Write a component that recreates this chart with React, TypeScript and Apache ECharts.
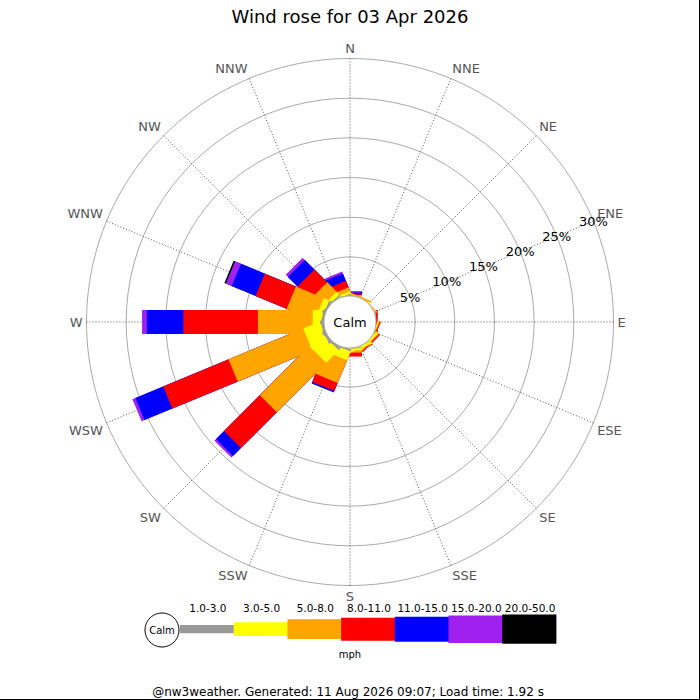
import React, { useEffect, useRef } from 'react';
import * as echarts from 'echarts';

// Compass directions, clockwise from North
const DIRECTIONS = ['N', 'NNE', 'NE', 'ENE', 'E', 'ESE', 'SE', 'SSE', 'S', 'SSW', 'SW', 'WSW', 'W', 'WNW', 'NW', 'NNW'];
// Speed bins (mph)
const SPEED_BINS = ['1.0-3.0', '3.0-5.0', '5.0-8.0', '8.0-11.0', '11.0-15.0', '15.0-20.0', '20.0-50.0'];
const BIN_COLORS = ['#999999', '#ffff00', '#ffa500', '#ff0000', '#0000ff', '#a020f0', '#000000'];

// Percentage of time per direction, for each speed bin (order of DIRECTIONS)
const PCT_1_3 = [0.05, 0, 0, 0, 0.05, 0, 0, 0.05, 0.1, 0.2, 0.3, 0.3, 0.25, 0.25, 0.2, 0.1];
const PCT_3_5 = [0.05, 0.05, 0.05, 0, 0, 0.15, 0.3, 0.3, 0.25, 1.2, 2.25, 2.25, 1.25, 0.75, 0.5, 0.3];
const PCT_5_8 = [0.05, 0.2, 0.1, 0, 0, 0.1, 0.15, 0.1, 0.3, 3.1, 8.8, 10.2, 6.9, 3.8, 1.65, 0.5];
const PCT_8_11 = [0.15, 0, 0, 0, 0.25, 0.15, 0.2, 0.1, 0.5, 1.1, 6.4, 8.9, 9.4, 4.25, 2.3, 0.9];
const PCT_11_15 = [0.2, 0, 0, 0, 0, 0, 0, 0, 0, 0.2, 1.4, 3.8, 4.6, 3.25, 1.7, 1.0];
const PCT_15_20 = [0.2, 0, 0, 0, 0, 0, 0, 0, 0, 0, 0.3, 0.4, 0.6, 0.8, 0.4, 0.25];
const PCT_20_50 = [0, 0, 0, 0, 0, 0, 0, 0, 0, 0, 0, 0, 0, 0.2, 0, 0];

// Radial axis (percent)
const RADIUS_MAX = 30;
const RADIUS_STEP = 5;
// The radial tick labels run along this direction
const LABEL_DIRECTION = 'ENE';

const TITLE = 'Wind rose for 03 Apr 2026';
const UNIT = 'mph';
const FOOTER = '@nw3weather. Generated: 11 Aug 2026 09:07; Load time: 1.92 s';

const FONT = 'DejaVu Sans';

export default function App() {
  const ref = useRef<HTMLDivElement>(null);

  useEffect(() => {
    if (!ref.current) return;
    const chart = echarts.init(ref.current, null, { renderer: 'svg' });

    const bins = [PCT_1_3, PCT_3_5, PCT_5_8, PCT_8_11, PCT_11_15, PCT_15_20, PCT_20_50];
    const cum: number[][] = [];
    bins.forEach((b, k) => {
      cum.push(b.map((v, i) => v + (k > 0 ? cum[k - 1][i] : 0)));
    });

    const n = DIRECTIONS.length;
    const step = 360 / n;
    const startIdx = DIRECTIONS.indexOf(LABEL_DIRECTION);
    const startAngle = 90 - startIdx * step;
    // angle-axis value of each direction, measured from the label direction
    const angleOf = (i: number) => ((((i - startIdx) % n) + n) % n) * step;
    const nameAt = (v: number) => DIRECTIONS[(Math.round(v / step) + startIdx) % n];

    const BAR_HALF = 12;

    const series: any[] = [];
    for (let k = bins.length - 1; k >= 0; k--) {
      const color = BIN_COLORS[k];
      series.push({
        type: 'custom',
        name: SPEED_BINS[k],
        coordinateSystem: 'polar',
        encode: { radius: 0, angle: 1 },
        data: DIRECTIONS.map((d, i) => [cum[k][i], angleOf(i), bins[k][i]]),
        renderItem: (params: any, api: any) => {
          const v = api.value(2);
          if (!(v > 0)) return null;
          const a = api.value(1);
          const top = api.value(0);
          const p0 = api.coord([0, a]);
          const p1 = api.coord([top, a]);
          const pf = api.coord([RADIUS_MAX, a]);
          let ux = pf[0] - p0[0];
          let uy = pf[1] - p0[1];
          const len = Math.sqrt(ux * ux + uy * uy) || 1;
          ux /= len;
          uy /= len;
          const nx = -uy * BAR_HALF;
          const ny = ux * BAR_HALF;
          return {
            type: 'polygon',
            shape: {
              points: [
                [p0[0] + nx, p0[1] + ny],
                [p1[0] + nx, p1[1] + ny],
                [p1[0] - nx, p1[1] - ny],
                [p0[0] - nx, p0[1] - ny],
              ],
            },
            style: { fill: color },
          };
        },
      });
    }

    const legendX = 180;
    const legendW = 53.7;
    const legendCy = 629.2;
    const legendH = [8.3, 13.7, 19.7, 23, 25, 27.4, 29.3];
    const graphics: any[] = [
      {
        type: 'circle',
        shape: { cx: 350, cy: 322, r: 26 },
        style: { fill: '#ffffff', stroke: '#aaaaaa', lineWidth: 1 },
        z: 100,
      },
      {
        type: 'text',
        x: 350,
        y: 322,
        style: { text: 'Calm', fontSize: 13, fontFamily: FONT, fill: '#000', align: 'center', verticalAlign: 'middle' },
        z: 101,
      },
      {
        type: 'circle',
        shape: { cx: 162, cy: 630, r: 17 },
        style: { fill: '#ffffff', stroke: '#000000', lineWidth: 1 },
        z: 100,
      },
      {
        type: 'text',
        x: 162,
        y: 630,
        style: { text: 'Calm', fontSize: 10, fontFamily: FONT, fill: '#000', align: 'center', verticalAlign: 'middle' },
        z: 101,
      },
      {
        type: 'text',
        x: 350,
        y: 654,
        style: { text: UNIT, fontSize: 10, fontFamily: FONT, fill: '#000', align: 'center', verticalAlign: 'middle' },
        z: 101,
      },
      {
        type: 'text',
        x: 348,
        y: 692,
        style: { text: FOOTER, fontSize: 12, fontFamily: FONT, fill: '#000', align: 'center', verticalAlign: 'middle' },
        z: 101,
      },
      {
        type: 'line',
        shape: { x1: 699.5, y1: 0, x2: 699.5, y2: 700 },
        style: { stroke: '#000', lineWidth: 1 },
        z: 101,
      },
      {
        type: 'line',
        shape: { x1: 0, y1: 699.5, x2: 700, y2: 699.5 },
        style: { stroke: '#000', lineWidth: 1 },
        z: 101,
      },
    ];
    SPEED_BINS.forEach((label, k) => {
      const h = legendH[k];
      graphics.push({
        type: 'rect',
        shape: { x: legendX + k * legendW, y: legendCy - h / 2, width: legendW + 0.5, height: h },
        style: { fill: BIN_COLORS[k] },
        z: 100,
      });
      graphics.push({
        type: 'text',
        x: legendX + k * legendW + legendW / 2 + 1,
        y: 608,
        style: { text: label, fontSize: 10.5, fontFamily: FONT, fill: '#000', align: 'center', verticalAlign: 'middle' },
        z: 101,
      });
    });

    chart.setOption({
      animation: false,
      backgroundColor: '#ffffff',
      title: {
        text: TITLE,
        left: 'center',
        top: 7,
        padding: 0,
        textStyle: { fontSize: 18, fontWeight: 'normal', color: '#000', fontFamily: FONT },
      },
      polar: { center: [350, 322], radius: [25.4, 263.5] },
      angleAxis: {
        type: 'value',
        min: 0,
        max: 360,
        interval: step,
        startAngle,
        clockwise: true,
        axisLine: { show: false },
        axisTick: { show: false },
        splitLine: { show: true, lineStyle: { color: '#555555', width: 1, type: [1, 2] } },
        axisLabel: {
          margin: 4,
          fontSize: 13,
          color: '#555555',
          fontFamily: FONT,
          formatter: (v: number) => nameAt(v),
        },
      },
      radiusAxis: {
        type: 'value',
        min: 0,
        max: RADIUS_MAX,
        interval: RADIUS_STEP,
        axisLine: { show: false },
        axisTick: { show: false },
        splitLine: { show: true, lineStyle: { color: '#aaaaaa', width: 1 } },
        axisLabel: {
          margin: 0,
          align: 'center',
          verticalAlign: 'middle',
          fontSize: 13,
          color: '#000',
          fontFamily: FONT,
          formatter: (v: number) => (v === 0 ? '' : v + '%'),
        },
      },
      series,
      graphic: graphics,
    });

    return () => {
      chart.dispose();
    };
  }, []);

  return (
    <div
      ref={ref}
      style={{ position: 'absolute', left: 0, top: 0, width: 700, height: 700, background: '#fff' }}
    />
  );
}
